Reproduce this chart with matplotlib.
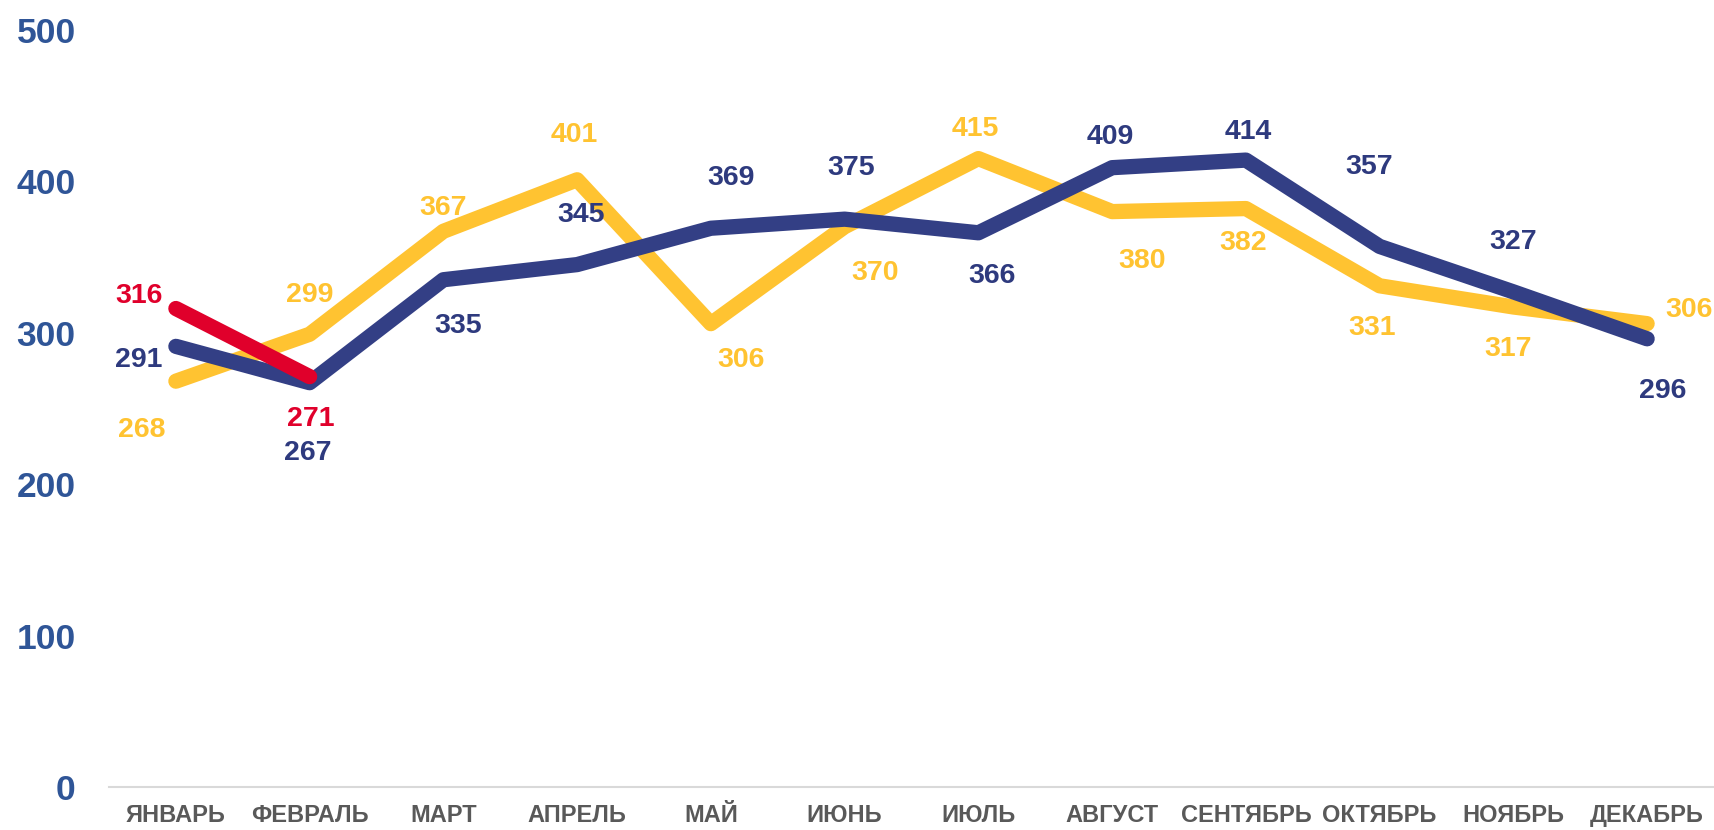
import matplotlib.pyplot as plt
import numpy as np

plt.rcParams['font.family'] = ['Liberation Sans', 'DejaVu Sans']
plt.rcParams['font.weight'] = 'bold'

months = ['ЯНВАРЬ', 'ФЕВРАЛЬ', 'МАРТ', 'АПРЕЛЬ', 'МАЙ', 'ИЮНЬ', 'ИЮЛЬ',
          'АВГУСТ', 'СЕНТЯБРЬ', 'ОКТЯБРЬ', 'НОЯБРЬ', 'ДЕКАБРЬ']
yellow_vals = [268, 299, 367, 401, 306, 370, 415, 380, 382, 331, 317, 306]
navy_vals = [291, 267, 335, 345, 369, 375, 366, 409, 414, 357, 327, 296]
red_vals = [316, 271]

# label offsets in pixels (dx, dy), dy positive = down
yellow_off = [(-34, 49), (0, -39), (0, -23), (-3, -45), (30, 36), (30, 46),
              (-3, -30), (30, 49), (-3, 34), (-8, 42), (-5, 42), (42, -14)]
navy_off = [(-37, 14), (-2, 70), (15, 46), (4, -50), (20, -50), (7, -51),
            (14, 43), (-2, -31), (2, -28), (-10, -79), (0, -50), (16, 52)]
red_off = [(-37, -13), (1, 42)]

c_yellow = '#FFC331'
c_navy = '#333F85'
c_red = '#E0002B'

fig = plt.figure(figsize=(17.14, 8.3), dpi=100)
ax = fig.add_axes([0.0636, 0.0518, 0.9364, 0.9122])

x = np.arange(len(months))
lw = 11
ax.plot(x, yellow_vals, color=c_yellow, lw=lw, solid_capstyle='round', solid_joinstyle='round', clip_on=False, zorder=2)
ax.plot(x, navy_vals, color=c_navy, lw=lw, solid_capstyle='round', solid_joinstyle='round', clip_on=False, zorder=3)
ax.plot(x[:len(red_vals)], red_vals, color=c_red, lw=lw, solid_capstyle='round', solid_joinstyle='round', clip_on=False, zorder=4)

def labels(vals, offs, color):
    for i, (v, (dx, dy)) in enumerate(zip(vals, offs)):
        ax.annotate(str(v), (x[i], v), xytext=(dx, -dy), textcoords='offset pixels',
                    ha='center', va='center', fontsize=20.5, fontweight='bold',
                    color=color, annotation_clip=False, zorder=5)

labels(yellow_vals, yellow_off, c_yellow)
labels(navy_vals, navy_off, '#2E3A7E')
labels(red_vals, red_off, c_red)

ax.set_xlim(-0.5, 11.5)
ax.set_ylim(0, 500)
ax.set_yticks([0, 100, 200, 300, 400, 500])
ax.set_xticks(x)
ax.set_xticklabels(months, fontsize=17, fontweight='bold', color='#595959')
ax.tick_params(axis='y', labelsize=25.5, labelcolor='#2F5597', length=0, pad=24)
ax.tick_params(axis='x', length=0, pad=12)
for s in ['top', 'right', 'left']:
    ax.spines[s].set_visible(False)
ax.spines['bottom'].set_color('#D9D9D9')
ax.spines['bottom'].set_linewidth(1.5)
for t in ax.get_yticklabels():
    t.set_fontweight('bold')

fig.savefig('out.png', dpi=100)
